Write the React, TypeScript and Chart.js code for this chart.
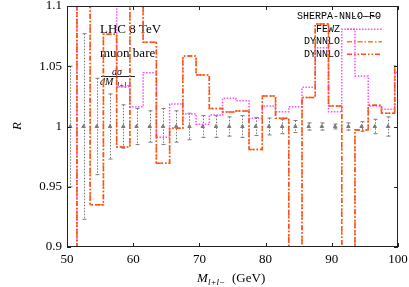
import React, { useEffect, useRef } from "react";
import { Chart, registerables } from "chart.js";

Chart.register(...registerables);

// ---- data ----
const binCenters = [
  50.5, 52.5, 54.5, 56.5, 58.5, 60.5, 62.5, 64.5, 66.5, 68.5, 70.5, 72.5, 74.5,
  76.5, 78.5, 80.5, 82.5, 84.5, 86.5, 88.5, 90.5, 92.5, 94.5, 96.5, 98.5, 100.5,
];
const fewz = [
  0.8, 1.2, 1.2, 1.2, 1.033, 1.0164, 1.0446, 0.991, 1.0187, 1.0104, 1.0018, 1.0095, 1.0234,
  1.0214, 1.0068, 1.017, 1.0123, 1.0164, 1.0325, 1.0654, 1.0123, 1.0807, 1.042, 1.017, 1.0143, 1.045,
];
const dynnloA = [
  0.8, 1.2, 0.935, 1.0765, 0.983, 1.2, 1.07, 0.9695, 0.9985, 1.0585, 1.0427, 1.015, 1.012,
  1.0128, 0.981, 1.0253, 1.0068, 0.8, 1.024, 1.085, 1.017, 0.8, 0.997, 1.0176, 1.011, 1.05,
];
const dynnloB = [
  0.8, 1.2, 0.935, 1.0765, 0.983, 1.2, 1.07, 0.9695, 0.9985, 1.0585, 1.0427, 1.015, 1.012,
  1.0128, 0.981, 1.0253, 1.0068, 0.8, 1.024, 1.085, 1.017, 0.8, 0.997, 1.0176, 1.011, 1.05,
];
const sherpaCenters = [
  50.5, 52.5, 54.5, 56.5, 58.5, 60.5, 62.5, 64.5, 66.5, 68.5, 70.5, 72.5, 74.5,
  76.5, 78.5, 80.5, 82.5, 84.5, 86.5, 88.5, 90.5, 92.5, 94.5, 96.5, 98.5,
];
const sherpa = [
  1, 1, 1, 1, 1, 1, 1, 1, 1, 1, 1, 1, 1, 1, 1, 1, 1, 1, 1, 1, 1, 1, 1, 1, 1,
];
const sherpaErr = [
  0.05, 0.077, 0.04, 0.027, 0.018, 0.015, 0.013, 0.015, 0.013, 0.011, 0.009, 0.009, 0.008,
  0.009, 0.0075, 0.007, 0.006, 0.005, 0.003, 0.003, 0.002, 0.003, 0.004, 0.006, 0.008,
];
const xTicks = [50, 60, 70, 80, 90, 100];
const yTicks = [0.9, 0.95, 1, 1.05, 1.1];
const yTickLabels = ["0.9", "0.95", "1", "1.05", "1.1"];
const legendLabels = ["SHERPA-NNLO-FO", "FEWZ", "DYNNLO", "DYNNLO"];

const COL_FEWZ = "#ff4cff";
const COL_DA = "#ff7a1a";
const COL_DB = "#ff4a22";
const COL_SH = "#7a7a7a";
const SERIF = "'Liberation Serif', 'DejaVu Serif', serif";
const MONO = "'Liberation Mono', 'DejaVu Sans Mono', monospace";

const toXY = (xs: number[], ys: number[]) => xs.map((x, i) => ({ x, y: ys[i] }));

const decorPlugin = {
  id: "decor",
  beforeDatasetsDraw(chart: any) {
    const { ctx, scales } = chart;
    const xs = scales.x;
    const ys = scales.y;
    ctx.save();
    // error bars
    ctx.strokeStyle = COL_SH;
    ctx.lineWidth = 1;
    sherpaCenters.forEach((c, i) => {
      const px = Math.round(xs.getPixelForValue(c)) + 0.5;
      const yt = ys.getPixelForValue(sherpa[i] + sherpaErr[i]);
      const yb = ys.getPixelForValue(sherpa[i] - sherpaErr[i]);
      ctx.setLineDash([1.5, 1.5]);
      ctx.beginPath();
      ctx.moveTo(px, yt);
      ctx.lineTo(px, yb);
      ctx.stroke();
      ctx.setLineDash([]);
      ctx.beginPath();
      ctx.moveTo(px - 2, yt);
      ctx.lineTo(px + 2, yt);
      ctx.moveTo(px - 2, yb);
      ctx.lineTo(px + 2, yb);
      ctx.stroke();
    });
    // in-plot labels
    ctx.fillStyle = "#000";
    ctx.textBaseline = "alphabetic";
    ctx.textAlign = "left";
    ctx.font = `13px ${SERIF}`;
    ctx.fillText("LHC 8 TeV", 100, 33);
    ctx.fillText("muon bare", 100, 56.5);
    ctx.font = `italic 10px ${SERIF}`;
    ctx.fillText("dσ", 112, 74.5);
    ctx.fillText("dM", 100, 85);
    ctx.font = `italic 7.5px ${SERIF}`;
    ctx.fillText("l+l−", 117, 87.5);
    ctx.strokeStyle = "#222";
    ctx.lineWidth = 1;
    ctx.beginPath();
    ctx.moveTo(101, 76.5);
    ctx.lineTo(135, 76.5);
    ctx.stroke();
    // legend
    ctx.font = `10px ${MONO}`;
    ctx.textAlign = "right";
    ctx.textBaseline = "middle";
    ctx.fillText(legendLabels[0], 381, 16.5);
    ctx.fillText(legendLabels[1], 340, 29);
    ctx.fillText(legendLabels[2], 340, 41.5);
    ctx.fillText(legendLabels[3], 340, 54.5);
    const sample = (y: number, color: string, dash: number[], w: number) => {
      ctx.strokeStyle = color;
      ctx.lineWidth = w;
      ctx.setLineDash(dash);
      ctx.beginPath();
      ctx.moveTo(347, y);
      ctx.lineTo(382, y);
      ctx.stroke();
    };
    sample(16.5, "#555", [3, 2], 1);
    sample(29.3, COL_FEWZ, [1.5, 1.5], 1.5);
    sample(41.7, COL_DA, [5, 2, 1.5, 2], 1.5);
    sample(54.3, COL_DB, [5, 2, 1.5, 2, 1.5, 2], 1.5);
    ctx.setLineDash([]);
    // axis titles
    ctx.fillStyle = "#000";
    ctx.textAlign = "left";
    ctx.textBaseline = "alphabetic";
    ctx.font = `italic 13px ${SERIF}`;
    ctx.fillText("M", 197, 282);
    ctx.font = `italic 9px ${SERIF}`;
    ctx.fillText("l+l−", 208, 285);
    ctx.font = `13px ${SERIF}`;
    ctx.fillText("(GeV)", 232, 282);
    ctx.save();
    ctx.translate(21, 126);
    ctx.rotate(-Math.PI / 2);
    ctx.textAlign = "center";
    ctx.font = `italic 13px ${SERIF}`;
    ctx.fillText("R", 0, 0);
    ctx.restore();
    ctx.restore();
  },
  afterDatasetsDraw(chart: any) {
    const { ctx, chartArea: a, scales } = chart;
    ctx.save();
    ctx.strokeStyle = "#222";
    ctx.lineWidth = 1;
    ctx.setLineDash([]);
    ctx.strokeRect(Math.round(a.left) + 0.5, Math.round(a.top) + 0.5, Math.round(a.right - a.left) - 1, Math.round(a.bottom - a.top) - 1);
    ctx.beginPath();
    xTicks.forEach((v) => {
      const px = Math.round(scales.x.getPixelForValue(v)) + 0.5;
      ctx.moveTo(px, a.bottom);
      ctx.lineTo(px, a.bottom - 4);
      ctx.moveTo(px, a.top);
      ctx.lineTo(px, a.top + 4);
    });
    yTicks.forEach((v) => {
      const py = Math.round(scales.y.getPixelForValue(v)) + 0.5;
      ctx.moveTo(a.left, py);
      ctx.lineTo(a.left + 4, py);
      ctx.moveTo(a.right, py);
      ctx.lineTo(a.right - 4, py);
    });
    ctx.stroke();
    ctx.restore();
  },
};

export default function App() {
  const ref = useRef<HTMLCanvasElement | null>(null);
  useEffect(() => {
    document.body.style.margin = "0";
    const canvas = ref.current;
    if (!canvas) return;
    const chart = new Chart(canvas, {
      type: "line",
      data: {
        datasets: [
          {
            label: "DYNNLO",
            data: toXY(binCenters, dynnloB),
            borderColor: COL_DB,
            borderWidth: 1.5,
            borderDash: [5, 2, 1.5, 2, 1.5, 2],
            stepped: "middle",
            pointRadius: 0,
            fill: false,
          },
          {
            label: "DYNNLO",
            data: toXY(binCenters, dynnloA),
            borderColor: COL_DA,
            borderWidth: 1.5,
            borderDash: [5, 2, 1.5, 2],
            stepped: "middle",
            pointRadius: 0,
            fill: false,
          },
          {
            label: "FEWZ",
            data: toXY(binCenters, fewz),
            borderColor: COL_FEWZ,
            borderWidth: 1.5,
            borderDash: [1.5, 1.5],
            stepped: "middle",
            pointRadius: 0,
            fill: false,
          },
          {
            label: "SHERPA-NNLO-FO",
            data: toXY(sherpaCenters, sherpa),
            showLine: false,
            pointStyle: "triangle",
            pointRadius: 2,
            borderColor: COL_SH,
            backgroundColor: COL_SH,
            borderWidth: 1,
          },
        ],
      },
      options: {
        animation: false,
        responsive: false,
        events: [],
        layout: { padding: { top: 6, right: 11, left: 0, bottom: 0 }, autoPadding: false },
        plugins: { legend: { display: false }, tooltip: { enabled: false } },
        scales: {
          x: {
            type: "linear",
            min: 50,
            max: 100,
            grid: { display: false, drawTicks: false },
            border: { display: false },
            afterBuildTicks: (s: any) => {
              s.ticks = xTicks.map((v) => ({ value: v }));
            },
            afterFit: (s: any) => {
              s.height = 40;
              s.paddingLeft = 0;
              s.paddingRight = 0;
            },
            ticks: {
              color: "#000",
              padding: 5,
              maxRotation: 0,
              font: { family: SERIF, size: 13 },
              callback: (v: any) => String(v),
            },
          },
          y: {
            type: "linear",
            min: 0.9,
            max: 1.1,
            grid: { display: false, drawTicks: false },
            border: { display: false },
            afterBuildTicks: (s: any) => {
              s.ticks = yTicks.map((v) => ({ value: v }));
            },
            afterFit: (s: any) => {
              s.width = 67;
              s.paddingTop = 0;
              s.paddingBottom = 0;
            },
            ticks: {
              color: "#000",
              padding: 5,
              font: { family: SERIF, size: 13 },
              callback: (v: any) => {
                const i = yTicks.findIndex((t) => Math.abs(t - v) < 1e-9);
                return i >= 0 ? yTickLabels[i] : "";
              },
            },
          },
        },
      },
      plugins: [decorPlugin],
    });
    return () => chart.destroy();
  }, []);
  return (
    <div style={{ width: 409, height: 287 }}>
      <canvas ref={ref} width={409} height={287} style={{ display: "block", width: 409, height: 287 }} />
    </div>
  );
}
